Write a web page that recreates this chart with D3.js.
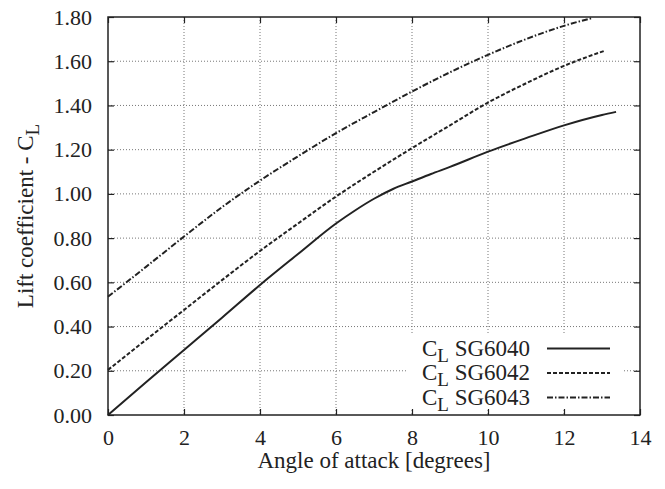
<!DOCTYPE html>
<html>
<head>
<meta charset="utf-8">
<script src="https://cdn.jsdelivr.net/npm/d3@7"></script>
<style>
  body { margin: 0; background: #fff; }
  text { font-family: "Liberation Serif", "DejaVu Serif", serif; fill: #222; }
</style>
</head>
<body>
<div id="chart"></div>
<script>
// angle of attack [deg] and lift coefficient
const aoa6040 = [0, 1, 2, 3, 4, 5, 6, 6.5, 7, 7.5, 8, 8.5, 9, 10, 11, 12, 13, 13.37];
const cl6040  = [0, 0.148, 0.294, 0.44, 0.588, 0.728, 0.866, 0.925, 0.978, 1.022, 1.056, 1.09, 1.122, 1.191, 1.252, 1.31, 1.357, 1.371];
const aoa6042 = [0, 1, 2, 3, 4, 5, 6, 7, 8, 9, 10, 11, 12, 13.08];
const cl6042  = [0.204, 0.34, 0.475, 0.61, 0.742, 0.866, 0.988, 1.10, 1.207, 1.31, 1.413, 1.50, 1.579, 1.648];
const aoa6043 = [0, 1, 2, 3, 4, 5, 6, 7, 8, 9, 10, 11, 12, 12.73];
const cl6043  = [0.535, 0.67, 0.807, 0.94, 1.06, 1.17, 1.275, 1.37, 1.463, 1.55, 1.629, 1.70, 1.760, 1.795];

const seriesNames = ["SG6040", "SG6042", "SG6043"];
const xTicks = [0, 2, 4, 6, 8, 10, 12, 14];
const yTicks = [0, 0.2, 0.4, 0.6, 0.8, 1.0, 1.2, 1.4, 1.6, 1.8];

const margin = {top: 17, right: 25, bottom: 74, left: 108};
const W = 665, H = 489;
const width = W - margin.left - margin.right;
const height = H - margin.top - margin.bottom;

const svg = d3.select("#chart").append("svg")
    .attr("width", W)
    .attr("height", H);
const g = svg.append("g")
    .attr("transform", "translate(" + margin.left + "," + margin.top + ")");

const x = d3.scaleLinear().domain([0, 14]).range([0, width]);
const y = d3.scaleLinear().domain([0, 1.8]).range([height, 0]);

// grid
g.append("g").selectAll("line")
    .data(xTicks.filter(d => d > 0 && d < 14))
    .join("line")
    .attr("x1", d => x(d)).attr("x2", d => x(d))
    .attr("y1", 0).attr("y2", height)
    .attr("stroke", "#777").attr("stroke-width", 1)
    .attr("stroke-dasharray", "1,2");
g.append("g").selectAll("line")
    .data(yTicks.filter(d => d > 0 && d < 1.8))
    .join("line")
    .attr("x1", 0).attr("x2", width)
    .attr("y1", d => y(d)).attr("y2", d => y(d))
    .attr("stroke", "#777").attr("stroke-width", 1)
    .attr("stroke-dasharray", "1,2");

// axes (ticks inward, mirrored)
const fmt = d3.format(".2f");
const axBottom = g.append("g").attr("transform", "translate(0," + height + ")")
    .call(d3.axisBottom(x).tickValues(xTicks).tickSizeInner(-6).tickSizeOuter(0).tickPadding(14));
const axLeft = g.append("g")
    .call(d3.axisLeft(y).tickValues(yTicks).tickFormat(fmt).tickSizeInner(-6).tickSizeOuter(0).tickPadding(16));
const axTop = g.append("g")
    .call(d3.axisTop(x).tickValues(xTicks).tickSizeInner(-6).tickSizeOuter(0).tickFormat(""));
const axRight = g.append("g").attr("transform", "translate(" + width + ",0)")
    .call(d3.axisRight(y).tickValues(yTicks).tickSizeInner(-6).tickSizeOuter(0).tickFormat(""));

[axBottom, axLeft, axTop, axRight].forEach(a => {
    a.select(".domain").remove();
    a.selectAll(".tick line").attr("stroke", "#222").attr("stroke-width", 1.2);
    a.selectAll("text").attr("font-size", 22).attr("fill", "#222")
        .attr("font-family", "Liberation Serif, serif");
});

g.append("rect")
    .attr("x", 0).attr("y", 0).attr("width", width).attr("height", height)
    .attr("fill", "none").attr("stroke", "#222").attr("stroke-width", 1.5);

// curves
const series = [
    {name: seriesNames[0], xs: aoa6040, ys: cl6040, dash: null},
    {name: seriesNames[1], xs: aoa6042, ys: cl6042, dash: "4,2"},
    {name: seriesNames[2], xs: aoa6043, ys: cl6043, dash: "6,2,1.5,2"}
];
const line = d3.line()
    .x(d => x(d[0]))
    .y(d => y(d[1]))
    .curve(d3.curveMonotoneX);

g.selectAll(".curve")
    .data(series)
    .join("path")
    .attr("class", "curve")
    .attr("d", s => line(s.xs.map((v, i) => [v, s.ys[i]])))
    .attr("fill", "none")
    .attr("stroke", "#222")
    .attr("stroke-width", 2)
    .attr("stroke-dasharray", s => s.dash);

// legend
const leg = g.append("g").attr("transform", "translate(" + (x(8) - 4) + "," + (y(0.4) + 8) + ")");
leg.append("rect")
    .attr("x", 0).attr("y", 0).attr("width", 216).attr("height", 74)
    .attr("fill", "#fff");
const item = leg.selectAll(".item")
    .data(series)
    .join("g")
    .attr("class", "item")
    .attr("transform", (d, i) => "translate(0," + (i * 24.5 + 21) + ")");
const label = item.append("text")
    .attr("x", 14).attr("y", 0)
    .attr("font-size", 23);
label.append("tspan").text("C");
label.append("tspan").attr("dy", 6).attr("font-size", 19).text("L");
label.append("tspan").attr("dy", -6).text(d => " " + d.name);
item.append("line")
    .attr("x1", 139).attr("x2", 202)
    .attr("y1", -7).attr("y2", -7)
    .attr("stroke", "#222").attr("stroke-width", 2)
    .attr("stroke-dasharray", d => d.dash);

// axis titles
svg.append("text")
    .attr("x", margin.left + width / 2)
    .attr("y", 468)
    .attr("text-anchor", "middle")
    .attr("font-size", 23)
    .text("Angle of attack [degrees]");

const yt = svg.append("text")
    .attr("transform", "translate(33," + (margin.top + height / 2) + ") rotate(-90)")
    .attr("text-anchor", "middle")
    .attr("font-size", 23);
yt.append("tspan").text("Lift coefficient - C");
yt.append("tspan").attr("dy", 6).attr("font-size", 19).text("L");
</script>
</body>
</html>
